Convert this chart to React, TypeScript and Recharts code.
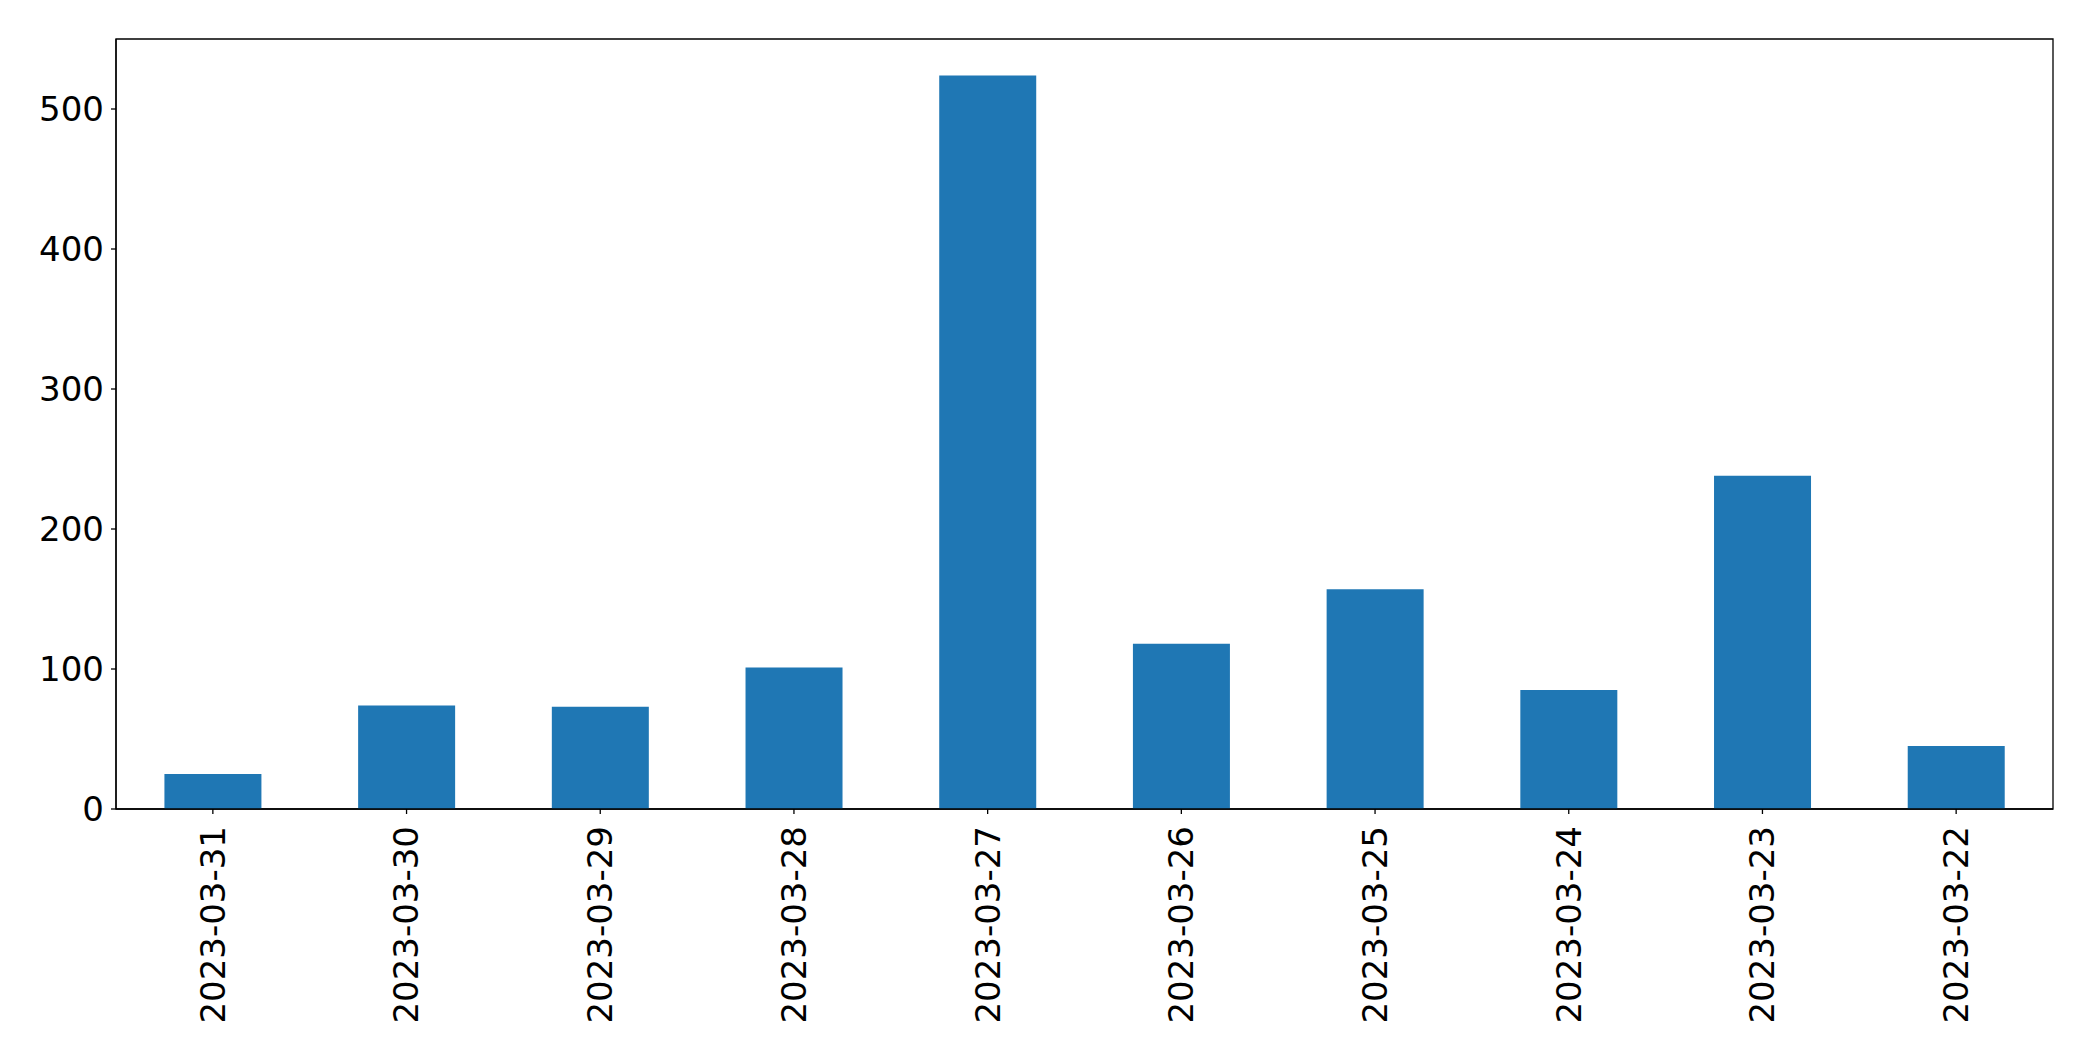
import { BarChart, Bar, XAxis, YAxis, ReferenceArea } from 'recharts';

const DATES = [
  '2023-03-31',
  '2023-03-30',
  '2023-03-29',
  '2023-03-28',
  '2023-03-27',
  '2023-03-26',
  '2023-03-25',
  '2023-03-24',
  '2023-03-23',
  '2023-03-22',
];
const COUNTS = [25, 74, 73, 101, 524, 118, 157, 85, 238, 45];
const Y_TICKS = [0, 100, 200, 300, 400, 500];

const FONT = '"DejaVu Sans", sans-serif';

const data = DATES.map((date, i) => ({ date, count: COUNTS[i] }));

function DateTick({ x, y, payload }: any) {
  return (
    <g transform={`translate(${x},${y})`}>
      <text
        transform="rotate(-90)"
        textAnchor="end"
        dy="0.35em"
        fontSize={34}
        fontFamily={FONT}
        fill="#000"
      >
        {payload.value}
      </text>
    </g>
  );
}

export default function App() {
  return (
    <div style={{ width: 2060, height: 1045, background: '#fff' }}>
      <BarChart
        width={2060}
        height={1045}
        data={data}
        margin={{ top: 31, right: 15, left: 0, bottom: 0 }}
        barCategoryGap="25%"
      >
        <XAxis
          dataKey="date"
          height={244}
          interval={0}
          tick={<DateTick />}
          tickSize={5}
          tickMargin={12}
          stroke="#000"
          strokeWidth={1.3}
          tickLine={{ stroke: '#000', strokeWidth: 1.3 }}
        />
        <YAxis
          type="number"
          domain={[0, 550]}
          ticks={Y_TICKS}
          width={108}
          tickSize={5}
          tickMargin={7}
          interval={0}
          stroke="#000"
          strokeWidth={1.3}
          tick={{ fontSize: 34, fontFamily: FONT, fill: '#000' }}
          tickLine={{ stroke: '#000', strokeWidth: 1.3 }}
        />
        <Bar dataKey="count" fill="#1f77b4" isAnimationActive={false} />
        <ReferenceArea
          y1={0}
          y2={550}
          fill="none"
          fillOpacity={0}
          stroke="#000"
          strokeWidth={1.3}
          ifOverflow="visible"
        />
      </BarChart>
    </div>
  );
}
